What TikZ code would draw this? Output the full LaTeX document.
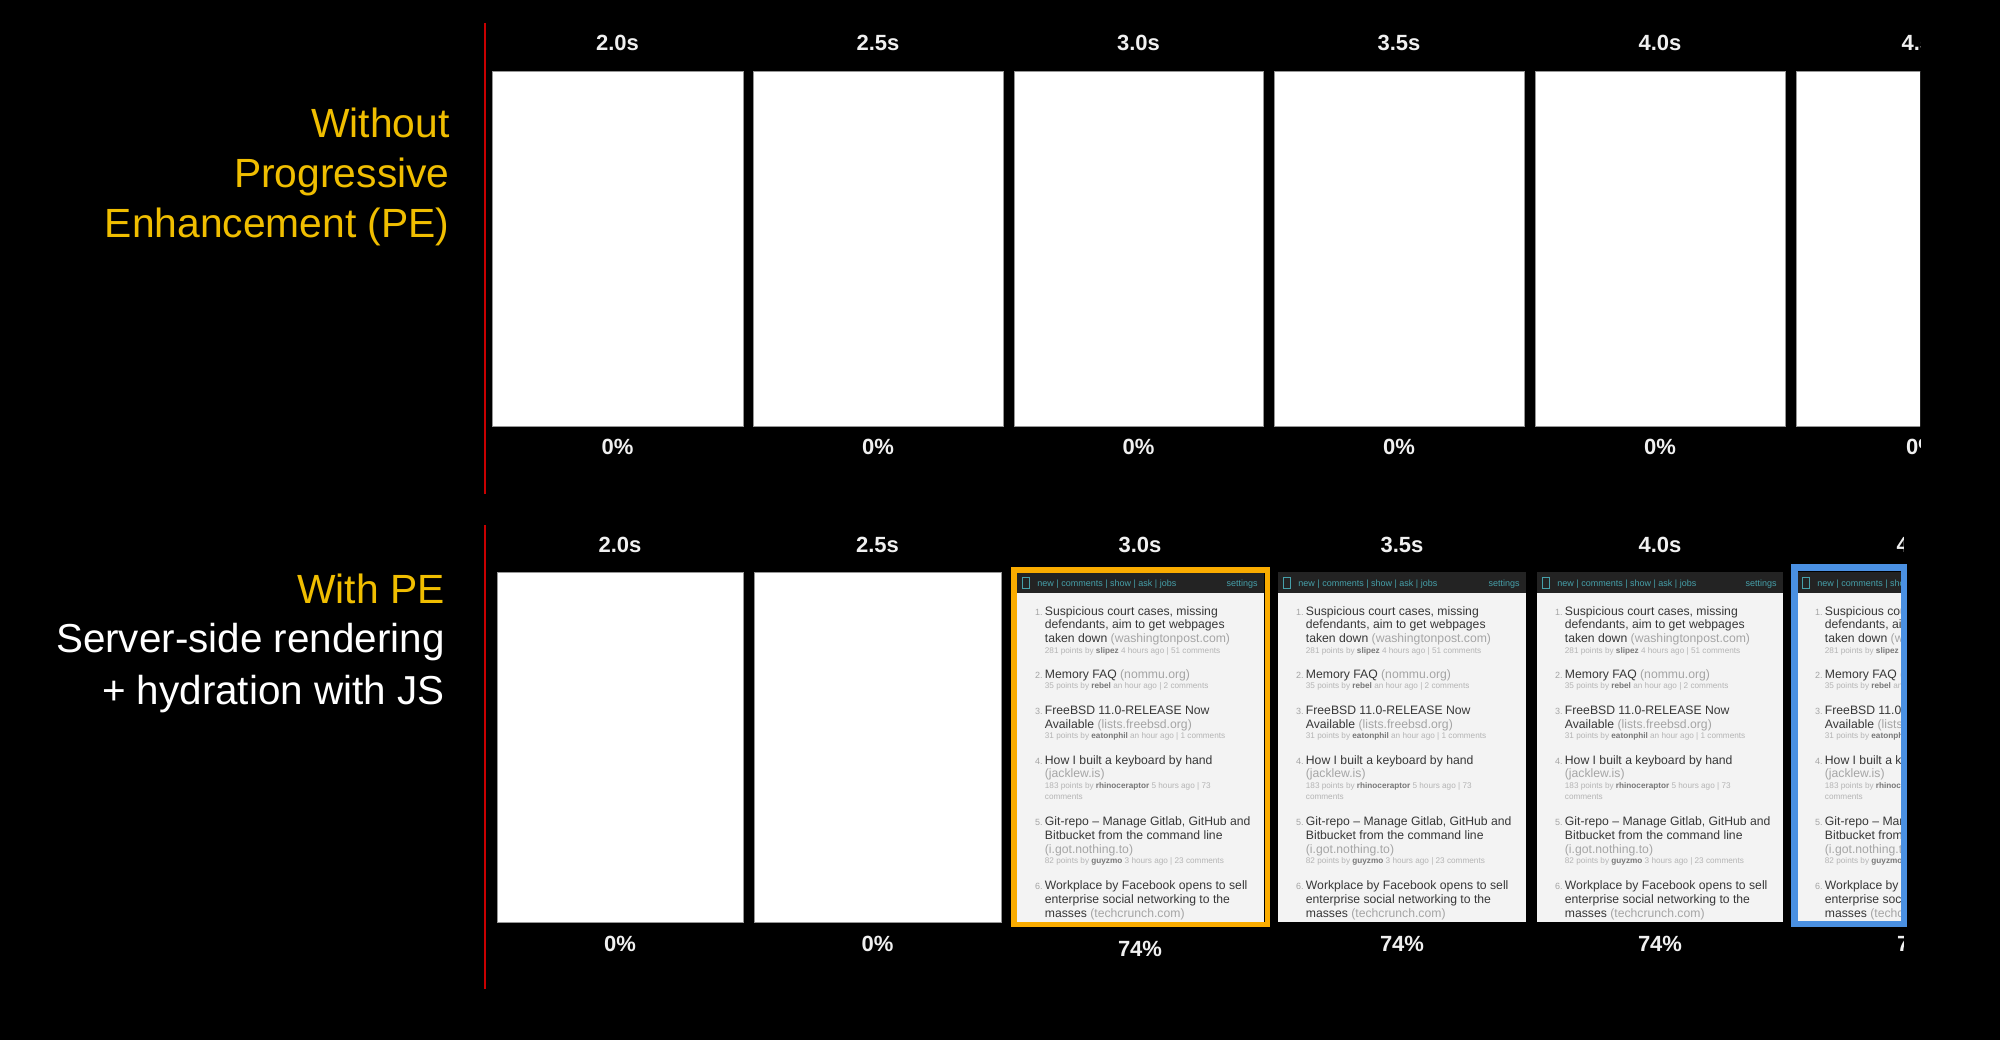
\documentclass[tikz,border=0pt]{standalone}
\usepackage{fontspec}
\setmainfont{Liberation Sans}
\definecolor{cYellow}{RGB}{240,190,0}
\definecolor{cOrange}{RGB}{250,172,0}
\definecolor{cBlue}{RGB}{74,144,226}
\definecolor{cRed}{RGB}{200,0,0}
\definecolor{cLabel}{RGB}{240,240,240}
\definecolor{cShotBg}{RGB}{243,243,243}
\definecolor{cBar}{RGB}{35,35,35}
\definecolor{cTeal}{RGB}{70,160,170}
\definecolor{cTitle}{RGB}{55,55,55}
\definecolor{cDom}{RGB}{165,165,165}
\definecolor{cMeta}{RGB}{180,180,180}
\definecolor{cUser}{RGB}{120,120,120}
\definecolor{cEdge}{RGB}{150,150,150}
\tikzset{
  redrule/.style={draw=cRed, line width=1pt},
  headA/.style={anchor=base east, inner sep=0pt, text=cYellow, font=\fontsize{20.4}{25}\selectfont},
  headB/.style={anchor=base east, inner sep=0pt, text=white, font=\fontsize{20.2}{25}\selectfont},
  tlabel/.style={anchor=base, inner sep=0pt, text=cLabel, font=\fontsize{11}{13}\selectfont\bfseries},
  blankframe/.style={draw=cEdge, line width=0.5pt, fill=white},
  hnmenu/.style={anchor=base west, inner sep=0pt, text=cTeal, font=\fontsize{4.5}{5}\selectfont},
  hnnum/.style={anchor=base east, inner sep=0pt, text=cDom, font=\fontsize{4.5}{5}\selectfont},
  hnline/.style={anchor=base west, inner sep=0pt, text=cTitle, font=\fontsize{6.1}{7}\selectfont},
  hnmeta/.style={anchor=base west, inner sep=0pt, text=cMeta, font=\fontsize{4.1}{5}\selectfont},
}
\newcommand{\hndom}[1]{{\color{cDom}#1}}
\newcommand{\hnuser}[1]{{\color{cUser}\bfseries #1}}
\newcommand{\hnshot}[4]{%
\begin{scope}[shift={(#1,#2)}]
  \fill[cShotBg] (0,0) rectangle (#3,350);
  \fill[cBar] (0,0) rectangle (#3,21);
  \draw[cTeal, line width=0.5pt] (5,5) rectangle (12,16);
  \node[hnmenu] (#4-menu) at (20,14) {new | comments | show | ask | jobs};
  \node[hnmenu, anchor=base east] (#4-set) at (#3-6,14) {settings};
  \node[hnnum] (#4-n1) at (26,43) {1.};
  \node[hnline] (#4-a1) at (27.5,43) {Suspicious court cases, missing};
  \node[hnline] (#4-a2) at (27.5,56) {defendants, aim to get webpages};
  \node[hnline] (#4-a3) at (27.5,70) {taken down \hndom{(washingtonpost.com)}};
  \node[hnmeta] (#4-a4) at (27.5,81) {281 points by \hnuser{slipez} 4 hours ago | 51 comments};
  \node[hnnum] (#4-n2) at (26,106) {2.};
  \node[hnline] (#4-b1) at (27.5,106) {Memory FAQ \hndom{(nommu.org)}};
  \node[hnmeta] (#4-b2) at (27.5,116) {35 points by \hnuser{rebel} an hour ago | 2 comments};
  \node[hnnum] (#4-n3) at (26,142) {3.};
  \node[hnline] (#4-c1) at (27.5,142) {FreeBSD 11.0-RELEASE Now};
  \node[hnline] (#4-c2) at (27.5,156) {Available \hndom{(lists.freebsd.org)}};
  \node[hnmeta] (#4-c3) at (27.5,166) {31 points by \hnuser{eatonphil} an hour ago | 1 comments};
  \node[hnnum] (#4-n4) at (26,192) {4.};
  \node[hnline] (#4-d1) at (27.5,192) {How I built a keyboard by hand};
  \node[hnline] (#4-d2) at (27.5,205) {\hndom{(jacklew.is)}};
  \node[hnmeta] (#4-d3) at (27.5,216) {183 points by \hnuser{rhinoceraptor} 5 hours ago | 73};
  \node[hnmeta] (#4-d4) at (27.5,227) {comments};
  \node[hnnum] (#4-n5) at (26,253) {5.};
  \node[hnline] (#4-e1) at (27.5,253) {Git-repo -- Manage Gitlab, GitHub and};
  \node[hnline] (#4-e2) at (27.5,267) {Bitbucket from the command line};
  \node[hnline] (#4-e3) at (27.5,281) {\hndom{(i.got.nothing.to)}};
  \node[hnmeta] (#4-e4) at (27.5,291) {82 points by \hnuser{guyzmo} 3 hours ago | 23 comments};
  \node[hnnum] (#4-n6) at (26,317) {6.};
  \node[hnline] (#4-f1) at (27.5,317) {Workplace by Facebook opens to sell};
  \node[hnline] (#4-f2) at (27.5,331) {enterprise social networking to the};
  \node[hnline] (#4-f3) at (27.5,345) {masses \hndom{(techcrunch.com)}};
\end{scope}}
\begin{document}
\begin{tikzpicture}[x=0.5pt,y=-0.5pt]
\fill[black] (0,0) rectangle (2000,1040);
\useasboundingbox (0,0) rectangle (2000,1040);

% separators
\coordinate (r1t) at (484.5,23);
\coordinate (r1b) at (484.5,494);
\coordinate (r2t) at (485,525);
\coordinate (r2b) at (485,989);
\draw[redrule] (r1t) -- (r1b);
\draw[redrule] (r2t) -- (r2b);

% headings
\node[headA] (hA1) at (450,137) {Without};
\node[headA] (hA2) at (450,187) {Progressive};
\node[headA] (hA3) at (450,237) {Enhancement (PE)};
\node[headA] (hB1) at (445,603) {With PE};
\node[headB] (hB2) at (445,652) {Server-side rendering};
\node[headB] (hB3) at (445,704) {+ hydration with JS};

% top row
\draw[blankframe] (492,71) rectangle (743,426);
\draw[blankframe] (753,71) rectangle (1003,426);
\draw[blankframe] (1014,71) rectangle (1263,426);
\draw[blankframe] (1274,71) rectangle (1524,426);
\draw[blankframe] (1535,71) rectangle (1785,426);
\node[tlabel] (ta1) at (617.5,50) {2.0s};
\node[tlabel] (ta2) at (878,50) {2.5s};
\node[tlabel] (ta3) at (1138.5,50) {3.0s};
\node[tlabel] (ta4) at (1399,50) {3.5s};
\node[tlabel] (ta5) at (1660,50) {4.0s};
\node[tlabel] (pa1) at (617.5,454) {0\%};
\node[tlabel] (pa2) at (878,454) {0\%};
\node[tlabel] (pa3) at (1138.5,454) {0\%};
\node[tlabel] (pa4) at (1399,454) {0\%};
\node[tlabel] (pa5) at (1660,454) {0\%};
\begin{scope}
  \clip (1790,0) rectangle (1920,500);
  \draw[blankframe] (1796,71) rectangle (1940,426);
  \node[tlabel] (ta6) at (1923,50) {4.5s};
  \node[tlabel] (pa6) at (1922,454) {0\%};
\end{scope}

% bottom row
\draw[blankframe] (497,572) rectangle (743,922);
\draw[blankframe] (754,572) rectangle (1001,922);
\hnshot{1017}{572}{247}{sA}
\hnshot{1278}{572}{248}{sB}
\hnshot{1537}{572}{246}{sC}
\begin{scope}
  \clip (1797,572) rectangle (1901,922);
  \hnshot{1797}{572}{246}{sD}
\end{scope}
\draw[cOrange, line width=2.75pt] (1013.75,569.75) rectangle (1267.25,924.25);
\draw[cBlue, line width=3.25pt] (1794.25,567.25) rectangle (1903.75,923.75);

\node[tlabel] (tb1) at (620,552) {2.0s};
\node[tlabel] (tb2) at (877.5,552) {2.5s};
\node[tlabel] (tb3) at (1140,552) {3.0s};
\node[tlabel] (tb4) at (1402,552) {3.5s};
\node[tlabel] (tb5) at (1660,552) {4.0s};
\node[tlabel] (pb1) at (620,951) {0\%};
\node[tlabel] (pb2) at (877.5,951) {0\%};
\node[tlabel] (pb3) at (1140,956) {74\%};
\node[tlabel] (pb4) at (1402,951) {74\%};
\node[tlabel] (pb5) at (1660,951) {74\%};
\begin{scope}
  \clip (1880,520) rectangle (1903,1000);
  \node[tlabel] (tb6) at (1918,552) {4.5s};
  \node[tlabel] (pb6) at (1919,951) {74\%};
\end{scope}
\end{tikzpicture}
\end{document}
